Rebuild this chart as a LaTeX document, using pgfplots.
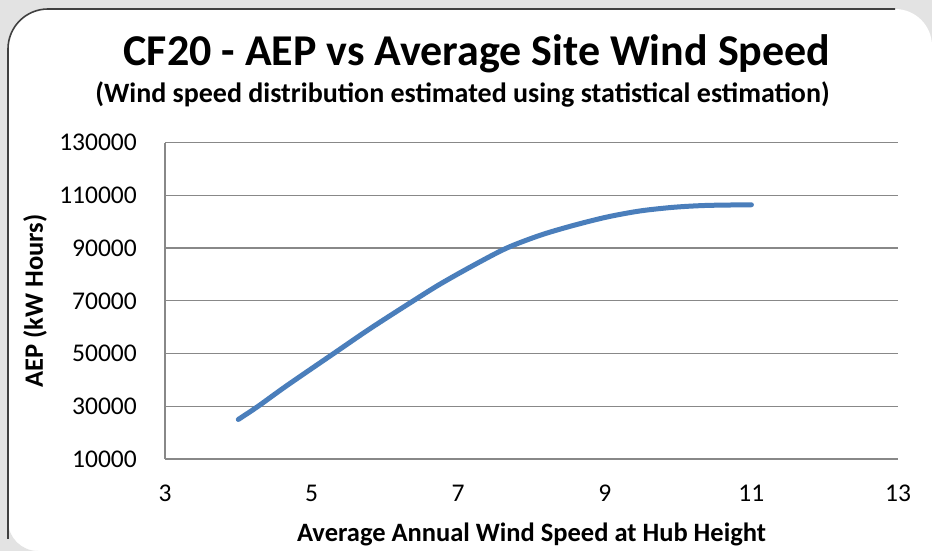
\documentclass[border=0pt]{standalone}
\usepackage{pgfplots}
\pgfplotsset{compat=1.18}
\usepackage{fontspec}
\setmainfont{Carlito}
\definecolor{lineblue}{HTML}{4A7EBB}
\definecolor{gridgray}{HTML}{888888}
\begin{document}
\begin{tikzpicture}[x=1pt,y=1pt]
\useasboundingbox (0,0) rectangle (932,551);
% frame (cropped rounded chart area)
\fill[gray!22] (0,0) rectangle (932,551);
\fill[white] (8,0) -- (8,502) arc[start angle=180,end angle=90,radius=40] -- (895,542) arc[start angle=90,end angle=0,radius=37] -- (932,505) -- (932,0) -- cycle;
\fill[white] (8,0) rectangle (932,30);
\fill[gray!22] (0,0) -- (0,30) -- (8,30) arc[start angle=180,end angle=270,radius=30] -- (38,0) -- cycle;
\draw[black!75,line width=1.6pt] (8,12) -- (8,502) arc[start angle=180,end angle=90,radius=40] -- (895,542);
\begin{axis}[
  at={(165pt,92pt)}, anchor=south west,
  scale only axis, width=733pt, height=316.3pt,
  xmin=3, xmax=13, ymin=10000, ymax=130000,
  xtick={3,5,7,9,11,13},
  ytick={10000,30000,50000,70000,90000,110000,130000},
  scaled y ticks=false,
  /pgf/number format/assume math mode=true,
  /pgf/number format/.cd, set thousands separator={}, fixed, precision=0, /pgfplots/.cd,
  axis x line*=bottom, axis y line*=left,
  axis line style={gridgray, line width=1.3pt, -},
  ymajorgrids, grid style={gridgray, line width=1.3pt},
  major tick length=0pt,
  tick label style={font=\fontsize{25.5}{29}\selectfont, text=black, inner sep=0pt},
  yticklabel style={anchor=east, xshift=-28pt},
  xticklabel style={anchor=north, yshift=-26pt},
  xlabel={\textbf{Average Annual Wind Speed at Hub Height}},
  ylabel={\textbf{AEP (kW Hours)}},
  label style={font=\fontsize{26.5}{30}\selectfont},
  xlabel style={at={(axis description cs:0.5,0)}, anchor=base, yshift=-83pt, inner sep=0pt},
  ylabel style={at={(axis description cs:-0.1774,0.5)}, anchor=center, inner sep=0pt},
  clip=false,
]
\addplot[lineblue, line width=5pt, line cap=round, smooth] coordinates {
  (4,25000) (4.27,30000) (4.66,37800) (5.3,50000) (5.8,59500) (6.37,69700) (6.75,76300)
  (7.21,83500) (7.66,90000) (8.12,94900) (8.57,98600) (9.03,101800) (9.48,104100)
  (9.94,105500) (10.39,106200) (11,106450)
};
\end{axis}
\node[anchor=base, inner sep=0pt, font=\fontsize{44}{50}\selectfont\bfseries] at (477,485) {CF20 - AEP vs Average Site Wind Speed};
\node[anchor=base, inner sep=0pt, font=\fontsize{28}{32}\selectfont\bfseries] at (462.5,448) {(Wind speed distribution estimated using statistical estimation)};
\end{tikzpicture}
\end{document}
